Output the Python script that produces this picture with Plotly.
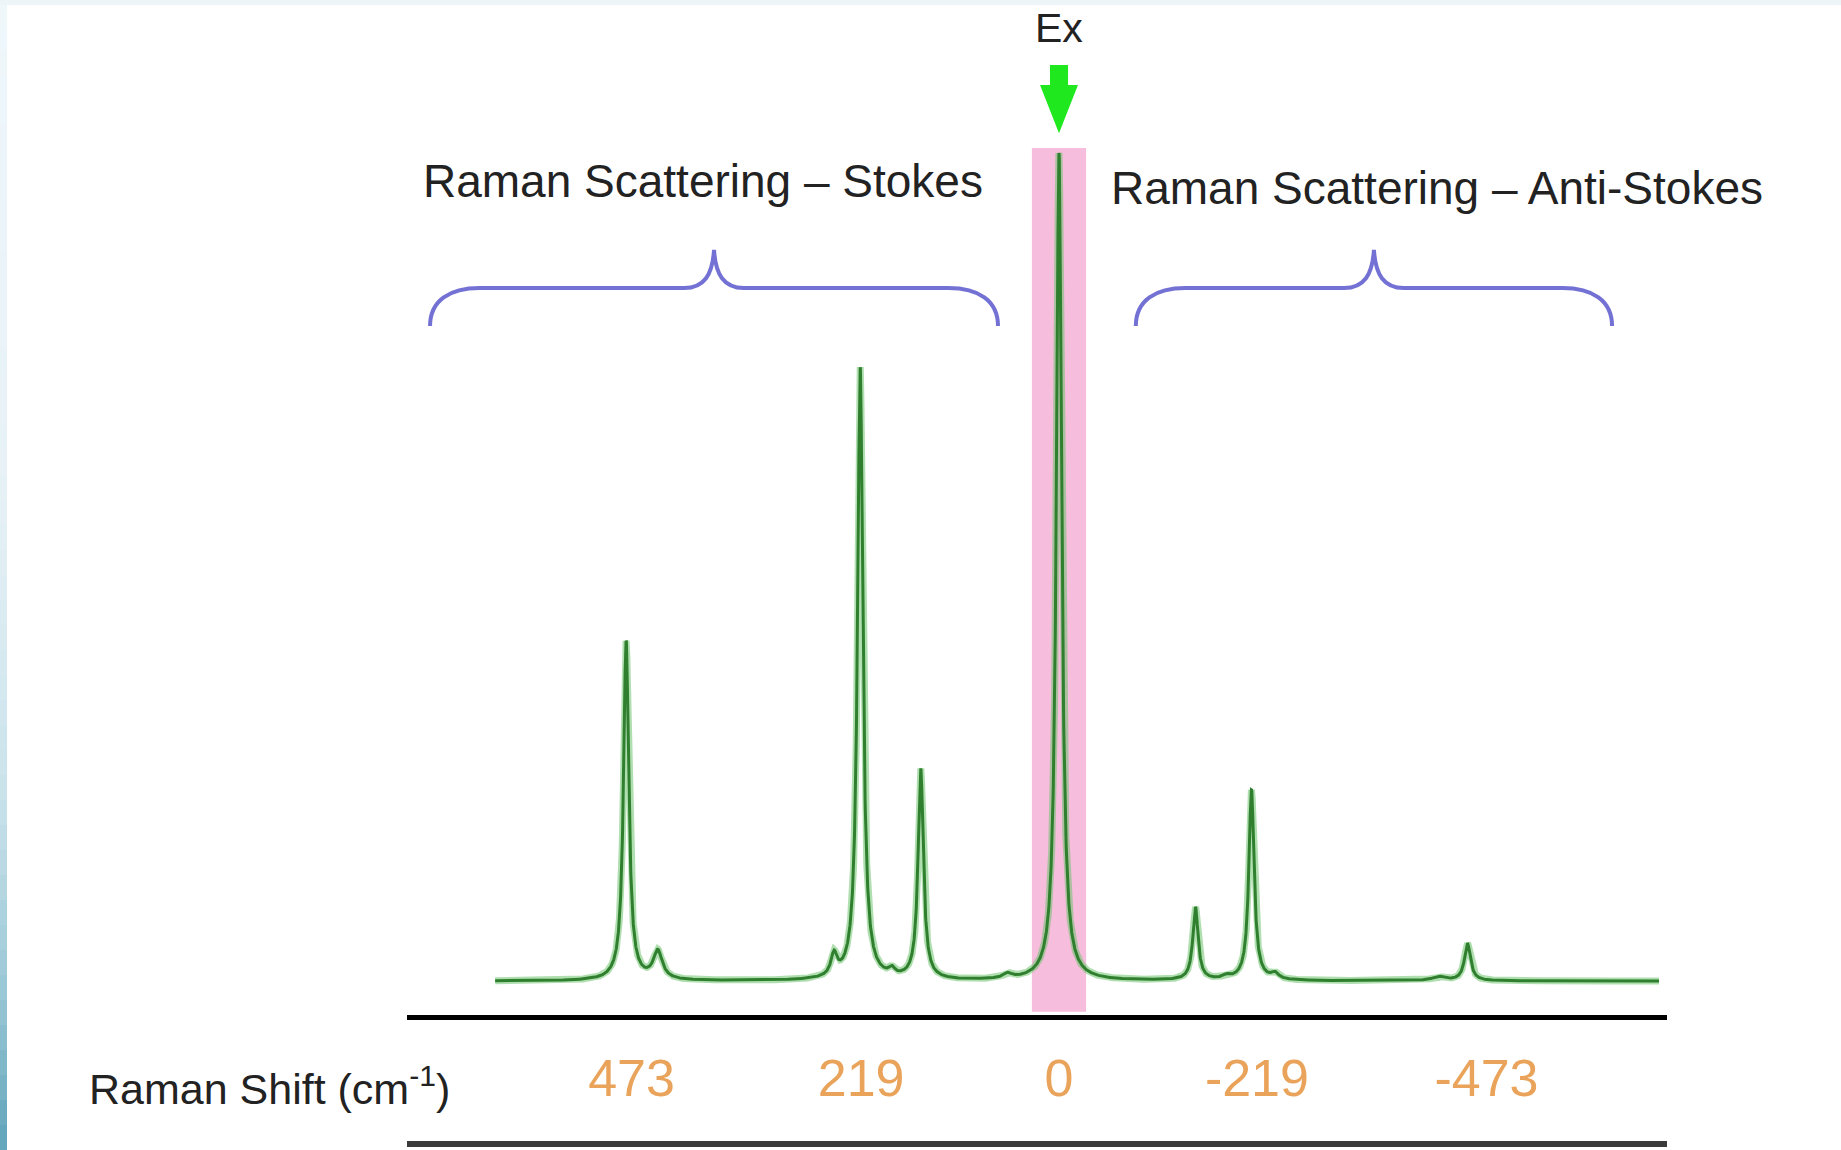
import numpy as np
import plotly.graph_objects as go

# ---- spectrum data (Raman shift in cm^-1, relative intensity, half-width) ----
PEAK_SHIFT = [479, 444, 249, 220, 185, 153, 57, 0, -151, -185, -213, -239, -420, -452]
PEAK_HEIGHT = [41.0, 3.4, 2.6, 74.0, 0.8, 25.4, 0.6, 100.0, 8.8, 0.4, 23.0, 0.7, 0.5, 4.5]
PEAK_HWHM = [3.5, 6.0, 4.0, 3.5, 4.0, 3.5, 6.0, 3.5, 3.5, 5.0, 3.5, 5.0, 8.0, 4.0]
SPECTRUM_START, SPECTRUM_END = 624, -664

TICK_VALUES = [473, 219, 0, -219, -473]
TICK_TEXT = ["473", "219", "0", "-219", "-473"]

STOKES_SPAN = (696, 67.5)
ANTI_STOKES_SPAN = (-85, -612)
LASER_BAND = (30, -30)

W, H = 1841, 1150
X_RANGE = [721.5, -672.8]
Y_RANGE = [-20.41, 118.48]

FONT = "Liberation Sans, Arial, sans-serif"

# ---- spectrum as a sum of Lorentzian lines ----
shift = np.linspace(SPECTRUM_START, SPECTRUM_END, 6000)
intensity = np.zeros_like(shift)
for c, h, g in zip(PEAK_SHIFT, PEAK_HEIGHT, PEAK_HWHM):
    intensity += h * g**2 / ((shift - c) ** 2 + g**2)

fig = go.Figure()
fig.add_trace(go.Scatter(x=shift, y=intensity, mode="lines",
                         line=dict(color="rgba(110,195,110,0.55)", width=7),
                         hoverinfo="skip", showlegend=False))
fig.add_trace(go.Scatter(x=shift, y=intensity, mode="lines",
                         line=dict(color="#2f7f2f", width=3),
                         hoverinfo="skip", showlegend=False))

shapes = []

# light-blue frame edges
def mix(c1, c2, t):
    a = [int(c1[i:i + 2], 16) for i in (1, 3, 5)]
    b = [int(c2[i:i + 2], 16) for i in (1, 3, 5)]
    return "rgb(%d,%d,%d)" % tuple(round(a[k] + (b[k] - a[k]) * t) for k in range(3))

stops = [(0, "#eff7fb"), (500, "#e6f1f6"), (800, "#c9e2eb"), (1000, "#98c6d5"), (1150, "#5fa3b9")]
step = 25
for y0 in range(0, H, step):
    yc = y0 + step / 2
    for (p0, c0), (p1, c1) in zip(stops[:-1], stops[1:]):
        if p0 <= yc <= p1:
            col = mix(c0, c1, (yc - p0) / (p1 - p0))
            break
    shapes.append(dict(type="rect", xref="paper", yref="paper", layer="below",
                       x0=0, x1=7 / W, y0=1 - (y0 + step) / H, y1=1 - y0 / H,
                       fillcolor=col, line=dict(width=0)))
shapes.append(dict(type="rect", xref="paper", yref="paper", layer="below",
                   x0=0, x1=1, y0=1 - 5 / H, y1=1, fillcolor="#eef5f9", line=dict(width=0)))

# laser line band
shapes.append(dict(type="rect", xref="x", yref="y", layer="below",
                   x0=LASER_BAND[0], x1=LASER_BAND[1], y0=-3.7, y1=100.6,
                   fillcolor="#f6bddc", line=dict(width=0)))

# lower rule
shapes.append(dict(type="line", xref="paper", yref="paper",
                   x0=407 / W, x1=1667 / W, y0=1 - 1144 / H, y1=1 - 1144 / H,
                   line=dict(color="#3a3a3a", width=6)))

# curly braces over each scattering region
def brace(xl, xr, y_end=79.1, y_bar=83.7, y_tip=88.3, cw=55, kw=33):
    xm = (xl + xr) / 2
    yk = y_bar + 0.35 * (y_tip - y_bar)
    yc = y_end + 0.68 * (y_bar - y_end)
    return (f"M {xl},{y_end} C {xl},{yc} {xl - 0.4 * cw},{y_bar} {xl - cw},{y_bar} "
            f"L {xm + kw},{y_bar} C {xm + 0.33 * kw},{y_bar} {xm + 0.05 * kw},{yk} {xm},{y_tip} "
            f"C {xm - 0.05 * kw},{yk} {xm - 0.33 * kw},{y_bar} {xm - kw},{y_bar} "
            f"L {xr + cw},{y_bar} C {xr + 0.4 * cw},{y_bar} {xr},{yc} {xr},{y_end}")

for span in (STOKES_SPAN, ANTI_STOKES_SPAN):
    shapes.append(dict(type="path", xref="x", yref="y", path=brace(*span),
                       line=dict(color="#7371d4", width=4)))

# excitation arrow
shapes.append(dict(type="path", xref="x", yref="y",
                   path="M 10,110.63 L -10,110.63 L -10,108.2 L -21,108.2 L 0,102.4 "
                        "L 21,108.2 L 10,108.2 Z",
                   fillcolor="#1fe81f", line=dict(width=0)))

dark = "#222222"
common = dict(showarrow=False, xanchor="center", yanchor="middle", yref="paper")
annotations = [
    dict(text="Ex", x=0, xref="x", y=1 - 28 / H,
         font=dict(family=FONT, size=41, color=dark), **common),
    dict(text="Raman Scattering – Stokes", x=703 / W, xref="paper", y=1 - 181 / H,
         font=dict(family=FONT, size=46, color=dark), **common),
    dict(text="Raman Scattering – Anti-Stokes", x=1437 / W, xref="paper", y=1 - 188 / H,
         font=dict(family=FONT, size=46, color=dark), **common),
    dict(text="Raman Shift (cm<sup>-1</sup>)", x=269 / W, xref="paper", y=1 - 1086 / H,
         font=dict(family=FONT, size=43, color=dark), **common),
]

fig.update_layout(
    width=W, height=H, autosize=False,
    margin=dict(l=0, r=0, t=0, b=0),
    paper_bgcolor="white", plot_bgcolor="white",
    showlegend=False, hovermode=False,
    xaxis=dict(domain=[407 / W, 1667 / W], range=X_RANGE, anchor="free",
               position=(H - 1017) / H, showline=True, linecolor="black", linewidth=5,
               ticks="", tickvals=TICK_VALUES, ticktext=TICK_TEXT, ticklabelstandoff=14,
               tickfont=dict(family=FONT, size=52, color="#eaa35a"),
               showgrid=False, zeroline=False, fixedrange=True),
    yaxis=dict(domain=[0, 1], range=Y_RANGE, visible=False, showgrid=False,
               zeroline=False, fixedrange=True),
    shapes=shapes,
    annotations=annotations,
)

fig.write_html("out.html", config={"displayModeBar": False})
